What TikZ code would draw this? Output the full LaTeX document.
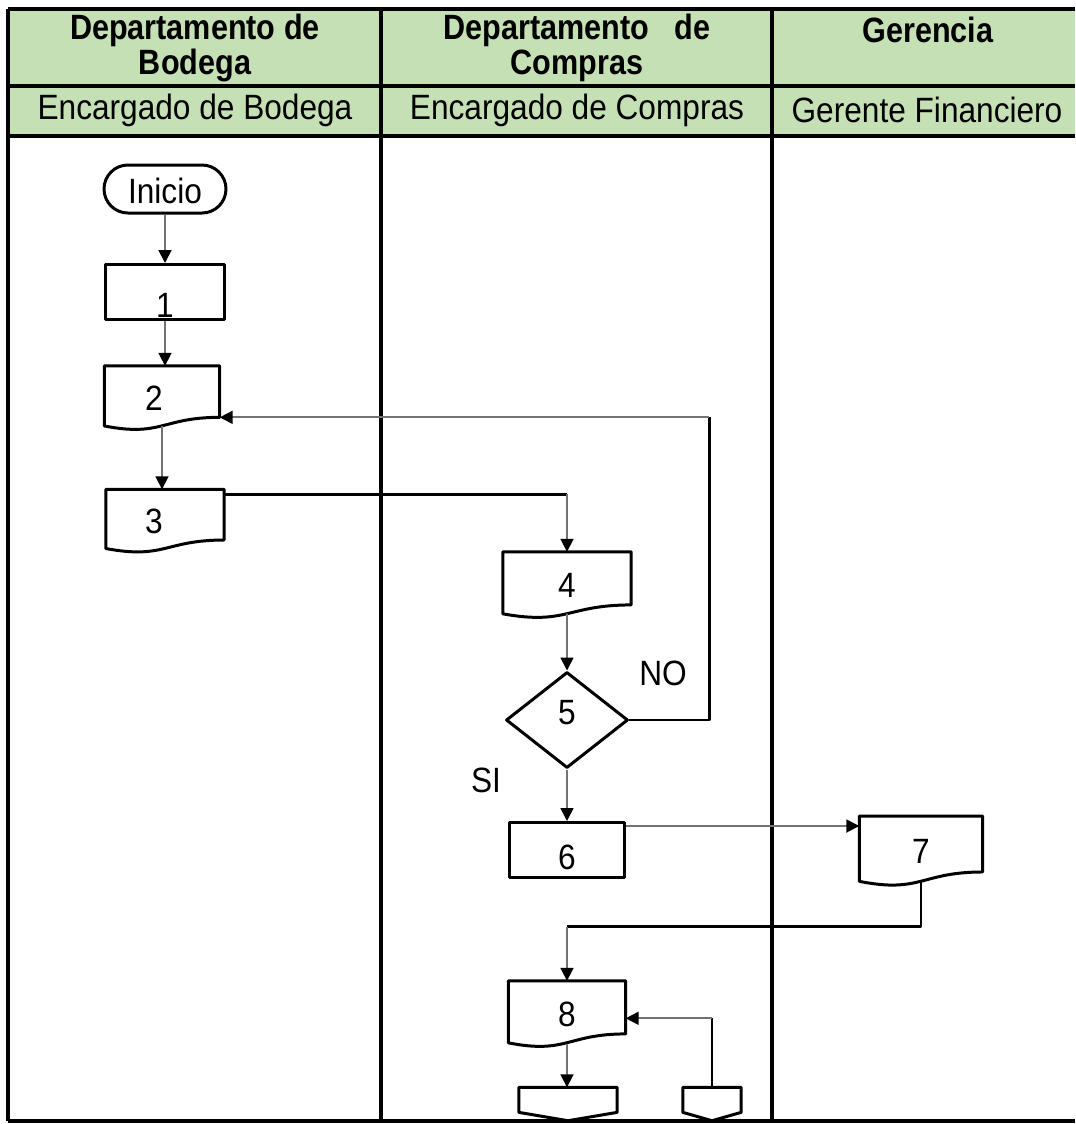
\documentclass[tikz,border=0pt]{standalone}
\usepackage{fontspec}
\setmainfont{Liberation Sans}[FakeStretch=0.9, BoldFeatures={FakeStretch=0.87}]
\usepackage{tikz}
\usetikzlibrary{arrows.meta, positioning, calc, shapes.geometric}
\definecolor{hdrgreen}{HTML}{C5E0B4}

\begin{document}
\begin{tikzpicture}[x=0.1mm, y=-0.1mm, line join=round, font=\fontsize{10}{10}\selectfont]
    \tikzset{tbl/.style={line width=1pt, black}}
    \tikzset{shp/.style={draw, line width=0.85pt, inner sep=0pt}}
    \tikzset{docu/.style={inner sep=0pt}}
    \tikzset{offpg/.style={inner sep=0pt, minimum height=3.2mm}}
    \tikzset{hdr/.style={font=\fontsize{10}{10}\selectfont\bfseries, align=center}}
    \tikzset{arr/.style={-{Triangle[length=1.3mm, width=1.3mm, color=black]}, black!55, line width=0.5pt}}
    \tikzset{thk/.style={line width=0.75pt, black}}
    \useasboundingbox (0,0) rectangle (1075,1124);
    \fill[hdrgreen] (8,9) rectangle (1075,136);
    \draw[tbl] (8,9) -- (1075,9) (8,86) -- (1075,86) (8,136) -- (1075,136) (8,1121) -- (1075,1121);
    \foreach \cx in {8, 381, 772} {
        \draw[tbl] (\cx,9) -- (\cx,1121);
    }
    \node[hdr] (hbod) at (195,48) {Departamento de\\Bodega};
    \node[hdr] (hcom) at (577,48) {Departamento~~~de\\Compras};
    \node[hdr] (hger) at (928,30) {Gerencia};
    \node (rbod) at (195,110) {Encargado de Bodega};
    \node (rcom) at (577,110) {Encargado de Compras};
    \node (rger) at (927,110) {Gerente Financiero};
    \node[shp, rounded corners=2.4mm, minimum width=12.2mm, minimum height=4.8mm, text height=2.9mm, text depth=0pt] (ini) at (165,189) {Inicio};
    \node[shp, minimum width=11.9mm, minimum height=5.5mm, text height=5.1mm, text depth=0pt] (p1) at (165,292) {1};
    \node[docu, minimum width=11.4mm, minimum height=6.3mm] (d2) at (162,398) {\hspace*{-1.6mm}2};
    \node[docu, minimum width=11.7mm, minimum height=6.2mm] (d3) at (165,521) {\hspace*{-2.2mm}3};
    \node[docu, minimum width=12.7mm, minimum height=6.5mm] (d4) at (567,585) {4};
    \node[shp, diamond, minimum width=12.2mm, minimum height=9.6mm, text depth=1.6mm] (dec5) at (567,720) {5};
    \node[shp, minimum width=11.5mm, minimum height=5.5mm, text height=3.8mm, text depth=0pt] (p6) at (567,850) {6};
    \node[docu, minimum width=12.2mm, minimum height=6.85mm] (d7) at (921,851) {7};
    \node[docu, minimum width=11.6mm, minimum height=6.5mm] (d8) at (567,1014) {8};
    \node[offpg, minimum width=9.7mm] (off1) at (568,1104) {};
    \node[offpg, minimum width=5.7mm] (off2) at (712,1104) {};
    \node (lno) at (663,673) {NO};
    \node (lsi) at (486,780) {SI};
    \foreach \d in {d2, d3, d4, d7, d8} {
        \draw[line width=0.85pt] (\d.north west) -- (\d.north east) -- ($(\d.north east)!0.8!(\d.south east)$)
            .. controls ($(\d.north)!0.8!(\d.south)$) and ($(\d.north)!1.108!(\d.south)$)
            .. ($(\d.north west)!0.934!(\d.south west)$) -- cycle;
    }
    \foreach \o in {off1, off2} {
        \draw[line width=0.85pt] (\o.north west) -- (\o.north east) -- ($(\o.north east)!0.75!(\o.south east)$)
            -- (\o.south) -- ($(\o.north west)!0.75!(\o.south west)$) -- cycle;
    }
    \draw[arr] (ini) -- (p1);
    \draw[arr] (p1.south) -- (p1.south |- d2.north);
    \coordinate (d2out) at ($(d2.north)!0.93!(d2.south)$);
    \draw[arr] (d2out) -- (d2out |- d3.north);
    \coordinate (c34) at ($(d3.north east)+(0,5)$);
    \draw[thk] (c34) -- (c34 -| d4.north);
    \draw[arr] (c34 -| d4.north) -- (d4.north);
    \draw[arr] ($(d4.north)!0.93!(d4.south)$) -- (dec5.north);
    \coordinate (d2in) at ($(d2.north east)!0.8!(d2.south east)$);
    \draw[thk] (dec5.east) -- ++(80,0) coordinate (nobend) -- (nobend |- d2in);
    \draw[arr] (nobend |- d2in) -- (d2in);
    \draw[arr] (dec5.south) -- (p6.north);
    \coordinate (c67) at ($(p6.north east)+(0,5)$);
    \draw[arr] (c67) -- (c67 -| d7.west);
    \coordinate (d7out) at ($(d7.north)!0.93!(d7.south)$);
    \coordinate (c78) at ($(d8.north)+(0,-54)$);
    \draw[thk] (d7out) |- (c78);
    \draw[arr] (c78) -- (d8.north);
    \draw[thk] (off2.north) -- ++(0,-69) coordinate (c28);
    \draw[arr] (c28) -- (c28 -| d8.east);
    \draw[arr] ($(d8.north)!0.95!(d8.south)$) -- (d8.center |- off1.north);
\end{tikzpicture}
\end{document}
